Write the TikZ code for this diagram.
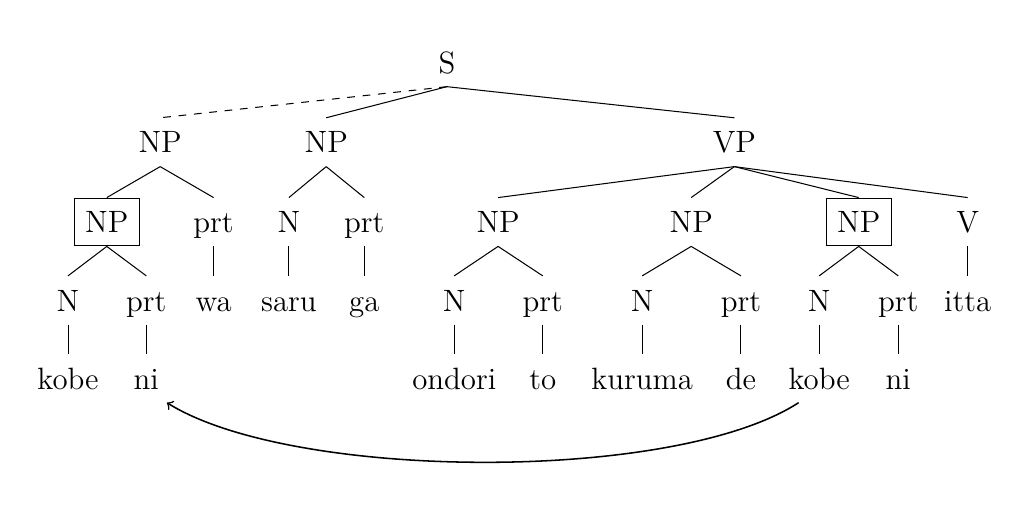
\documentclass[12pt,tikz,border=0pt]{standalone}
\begin{document}
\begin{tikzpicture}[every node/.style={text height=9.5pt,text depth=1.1pt},
		boxed/.style={draw,inner xsep=4.3pt}]
			\useasboundingbox (0,0) rectangle (14,6.891);
			\node (s) at (6.11,6.04) {S};
			\node (np1) at (2.19,4.947) {NP};
			\node (np2) at (4.46,4.947) {NP};
			\node (vp) at (10.04,4.947) {VP};
			\node[boxed] (np11) at (1.46,3.856) {NP};
			\node (prt1) at (2.92,3.856) {prt};
			\node (n2) at (3.95,3.856) {N};
			\node (prt2) at (4.98,3.856) {prt};
			\node (np3) at (6.81,3.856) {NP};
			\node (np4) at (9.45,3.856) {NP};
			\node[boxed] (np5) at (11.74,3.856) {NP};
			\node (v) at (13.23,3.856) {V};
			\node (n1) at (0.93,2.786) {N};
			\node (prt11) at (2.00,2.786) {prt};
			\node (wa) at (2.92,2.786) {wa};
			\node (saru) at (3.95,2.786) {saru};
			\node (ga) at (4.98,2.786) {ga};
			\node (n3) at (6.21,2.786) {N};
			\node (prt3) at (7.42,2.786) {prt};
			\node (n4) at (8.78,2.786) {N};
			\node (prt4) at (10.13,2.786) {prt};
			\node (n5) at (11.20,2.786) {N};
			\node (prt5) at (12.28,2.786) {prt};
			\node (itta) at (13.23,2.786) {itta};
			\node (kobe1) at (0.93,1.720) {kobe};
			\node (ni1) at (2.00,1.720) {ni};
			\node (ondori) at (6.21,1.720) {ondori};
			\node (to) at (7.42,1.720) {to};
			\node (kuruma) at (8.78,1.720) {kuruma};
			\node (de) at (10.13,1.720) {de};
			\node (kobe2) at (11.20,1.720) {kobe};
			\node (ni2) at (12.28,1.720) {ni};
			\draw[dashed] (s.south) -- (np1.north);
			\draw (s.south) -- (np2.north);
			\draw (s.south) -- (vp.north);
			\draw (np1.south) -- (np11.north);
			\draw (np1.south) -- (prt1.north);
			\draw (np2.south) -- (n2.north);
			\draw (np2.south) -- (prt2.north);
			\draw (vp.south) -- (np3.north);
			\draw (vp.south) -- (np4.north);
			\draw (vp.south) -- (np5.north);
			\draw (vp.south) -- (v.north);
			\draw (np11.south) -- (n1.north);
			\draw (np11.south) -- (prt11.north);
			\draw (prt1.south) -- (wa.north);
			\draw (n2.south) -- (saru.north);
			\draw (prt2.south) -- (ga.north);
			\draw (np3.south) -- (n3.north);
			\draw (np3.south) -- (prt3.north);
			\draw (np4.south) -- (n4.north);
			\draw (np4.south) -- (prt4.north);
			\draw (np5.south) -- (n5.north);
			\draw (np5.south) -- (prt5.north);
			\draw (v.south) -- (itta.north);
			\draw (n1.south) -- (kobe1.north);
			\draw (prt11.south) -- (ni1.north);
			\draw (n3.south) -- (ondori.north);
			\draw (prt3.south) -- (to.north);
			\draw (n4.south) -- (kuruma.north);
			\draw (prt4.south) -- (de.north);
			\draw (n5.south) -- (kobe2.north);
			\draw (prt5.south) -- (ni2.north);
			\draw[semithick,->] ([xshift=-8pt]kobe2.south) to[out=-147,in=-32,looseness=0.6] ([xshift=8pt]ni1.south);
		\end{tikzpicture}
\end{document}
